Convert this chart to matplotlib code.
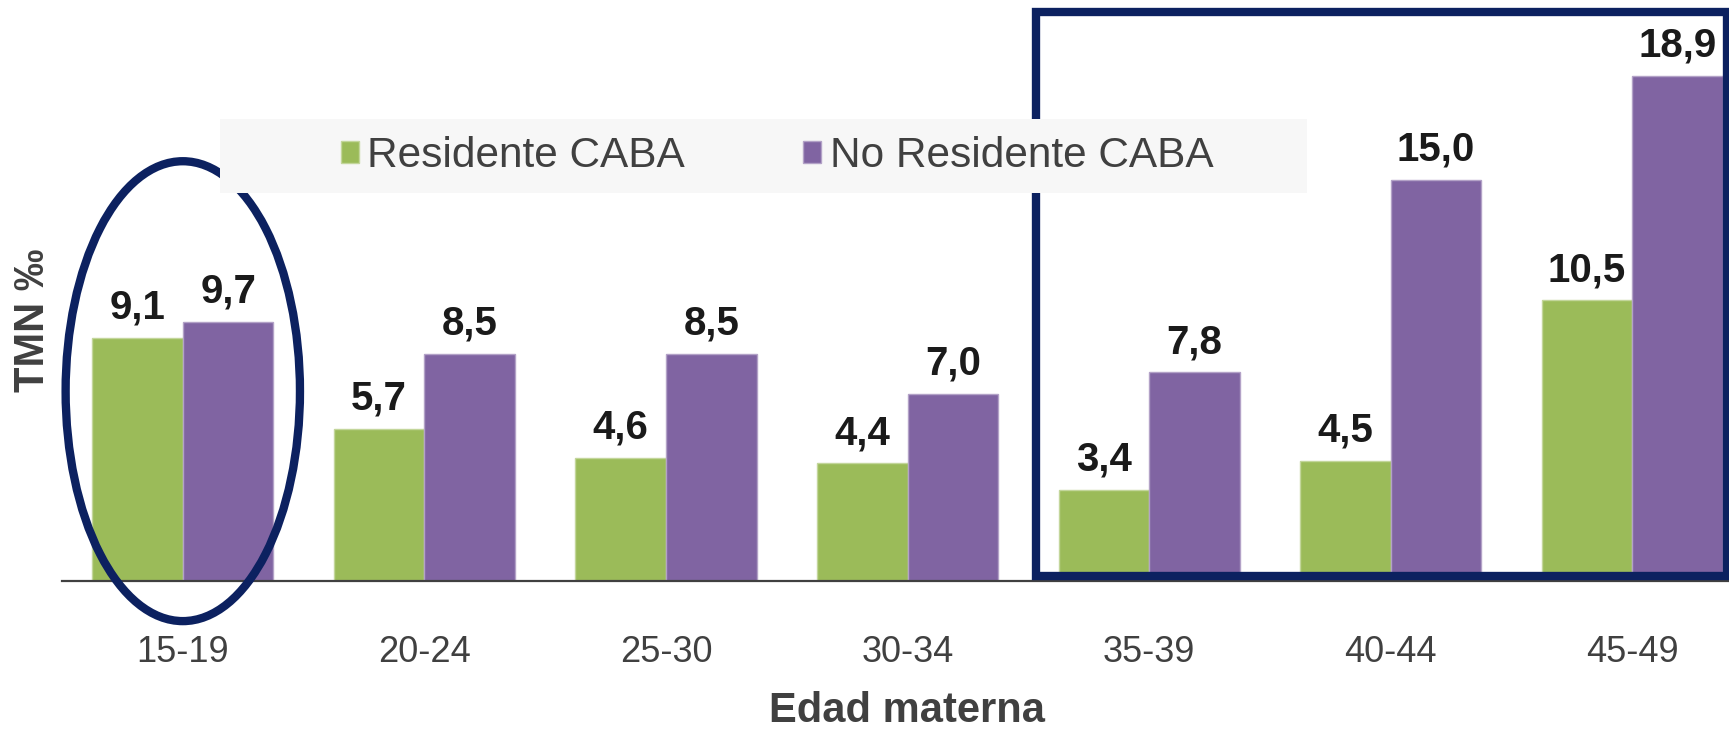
import matplotlib
matplotlib.use("Agg")
import matplotlib.pyplot as plt
from matplotlib.patches import Ellipse, Rectangle
import numpy as np

plt.rcParams['font.family'] = ['Liberation Sans', 'DejaVu Sans']

edades = ['15-19', '20-24', '25-30', '30-34', '35-39', '40-44', '45-49']
residente = [9.1, 5.7, 4.6, 4.4, 3.4, 4.5, 10.5]
no_residente = [9.7, 8.5, 8.5, 7.0, 7.8, 15.0, 18.9]
series = ['Residente CABA', 'No Residente CABA']

verde = '#9bbb59'
violeta = '#8064a2'
azul = '#0c2160'
gris = '#404040'

W, H = 1729, 730
fig = plt.figure(figsize=(W / 100, H / 100), dpi=100)
# eje: base en y=581px, izquierda en x=62px, se corta en el borde derecho
ax = fig.add_axes([62 / W, (H - 581) / H, 1 - 62 / W, 581 / H])

x = np.arange(len(edades))
bw = 0.375
b1 = ax.bar(x - bw / 2, residente, bw, color=verde, edgecolor='#c3d69b', linewidth=1,
            label=series[0], zorder=2)
b2 = ax.bar(x + bw / 2, no_residente, bw, color=violeta, edgecolor='#b3a2c7', linewidth=1,
            label=series[1], zorder=2)

for bars, vals in ((b1, residente), (b2, no_residente)):
    for r, v in zip(bars, vals):
        ax.annotate(f'{v:.1f}'.replace('.', ','),
                    (r.get_x() + r.get_width() / 2, r.get_height()),
                    xytext=(0, 8), textcoords='offset points',
                    ha='center', va='bottom', fontsize=29, fontweight='bold',
                    color='#1a1a1a', zorder=5)

ax.set_xlim(-0.5, 6.40)
ax.set_ylim(0, 21.73)
ax.set_xticks(x)
ax.set_xticklabels(edades)
ax.tick_params(axis='x', length=0, pad=39, labelsize=26, labelcolor=gris)
ax.set_yticks([])
for s in ('top', 'right', 'left'):
    ax.spines[s].set_visible(False)
ax.spines['bottom'].set_color(gris)
ax.spines['bottom'].set_linewidth(1.6)
ax.patch.set_alpha(0)

# fondo de la leyenda
fig.patches.append(Rectangle((220 / W, 1 - 193 / H), 1087 / W, 74 / H,
                             transform=fig.transFigure, facecolor='#f7f7f7',
                             edgecolor='none', zorder=0))
leg = fig.legend(loc='center', bbox_to_anchor=(777 / W, 1 - 156 / H), ncol=2,
                 frameon=False, fontsize=30.5, handlelength=0.42, handleheight=0.45,
                 handletextpad=0.2, columnspacing=2.8)
for t in leg.get_texts():
    t.set_color(gris)

# resaltados
ax.add_patch(Ellipse((0, 7.1), 0.97, 17.2, fill=False, edgecolor=azul,
                     linewidth=6, clip_on=False, zorder=6))
ax.add_patch(Rectangle((3.53, 0.19), 2.86, 21.1, fill=False, edgecolor=azul,
                       linewidth=6, clip_on=False, zorder=6))

fig.text(907 / W, 1 - 711 / H, 'Edad materna', ha='center', va='center',
         fontsize=30, fontweight='bold', color=gris)
fig.text(33 / W, 1 - 320 / H, 'TMN ‰', ha='center', va='center', rotation=90,
         fontsize=30, fontweight='bold', color=gris)

fig.savefig('out.png', dpi=100)
